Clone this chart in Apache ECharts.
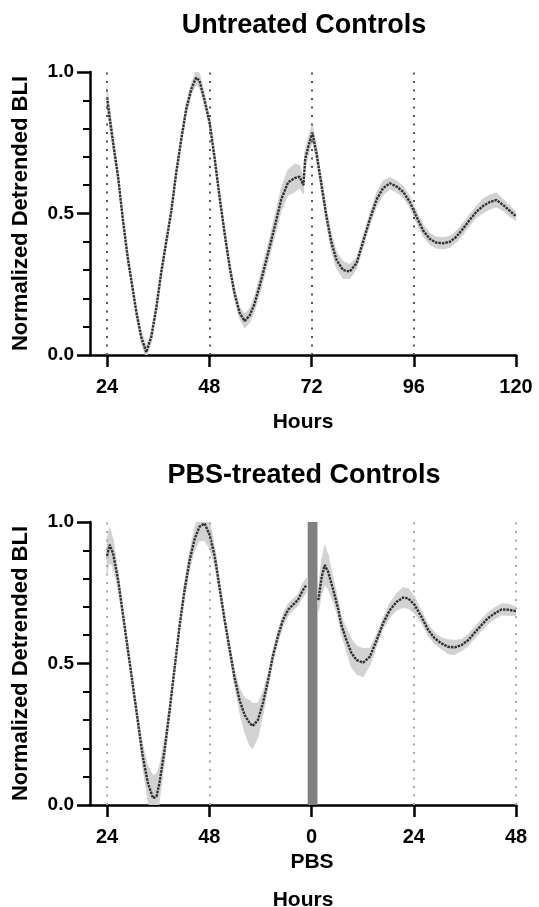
<!DOCTYPE html>
<html>
<head>
<meta charset="utf-8">
<script src="https://cdn.jsdelivr.net/npm/echarts@6/dist/echarts.min.js"></script>
<style>
  html, body { margin: 0; padding: 0; background: #fff; }
  #main { width: 539px; height: 907px; }
</style>
</head>
<body>
<div id="main"></div>
<script>
// untreated controls (top panel)
var topHours = [24.0, 24.6, 25.8, 26.6, 27.7, 28.9, 30.9, 32.0, 33.2, 34.4, 35.6, 36.7, 37.9, 39.1, 40.2, 41.4, 42.6, 43.8, 44.9, 45.7,
  46.9, 48.1, 49.3, 50.4, 51.6, 52.8, 53.9, 55.1, 56.3, 57.5, 58.6, 60.2, 61.8, 63.3, 64.9, 66.5, 68.0, 69.2, 70.1, 70.5,
  71.3, 72.2, 73.2, 74.4, 75.5, 76.7, 77.9, 79.4, 81.0, 82.6, 84.1, 85.7, 87.3, 88.8, 90.4, 92.0, 93.5, 95.1, 96.6, 98.2,
  99.8, 101.3, 102.9, 104.5, 106.0, 107.6, 109.1, 110.7, 112.3, 113.8, 115.4, 117.0, 118.5, 120.0];
var topMean = [0.91, 0.84, 0.71, 0.63, 0.48, 0.34, 0.15, 0.065, 0.01, 0.065, 0.17, 0.29, 0.40, 0.51, 0.64, 0.76, 0.87, 0.94, 0.98, 0.97,
  0.90, 0.82, 0.69, 0.56, 0.43, 0.31, 0.22, 0.15, 0.12, 0.14, 0.18, 0.265, 0.36, 0.45, 0.55, 0.61, 0.625, 0.63, 0.60, 0.69,
  0.74, 0.785, 0.71, 0.595, 0.49, 0.395, 0.335, 0.30, 0.295, 0.325, 0.40, 0.48, 0.55, 0.59, 0.607, 0.595, 0.577, 0.54, 0.49, 0.44,
  0.41, 0.397, 0.395, 0.40, 0.418, 0.447, 0.477, 0.506, 0.527, 0.54, 0.548, 0.53, 0.51, 0.49];
var topSem = [0.04, 0.035, 0.025, 0.02, 0.02, 0.02, 0.02, 0.02, 0.02, 0.02, 0.02, 0.02, 0.02, 0.02, 0.02, 0.02, 0.02, 0.02, 0.025, 0.025,
  0.02, 0.02, 0.02, 0.02, 0.02, 0.02, 0.02, 0.02, 0.025, 0.025, 0.025, 0.03, 0.03, 0.035, 0.04, 0.045, 0.05, 0.04, 0.03, 0.03,
  0.03, 0.03, 0.025, 0.025, 0.025, 0.03, 0.03, 0.03, 0.025, 0.02, 0.02, 0.02, 0.025, 0.025, 0.02, 0.02, 0.02, 0.02, 0.02, 0.02,
  0.02, 0.02, 0.02, 0.02, 0.02, 0.02, 0.02, 0.02, 0.025, 0.025, 0.025, 0.02, 0.02, 0.015];

// PBS-treated controls (bottom panel), '-' = gap at the PBS addition
var botHours = [24.0, 24.6, 25.4, 26.6, 27.7, 28.9, 30.1, 31.3, 32.4, 33.6, 34.8, 35.6, 36.3, 37.5, 38.7, 39.9, 41.0, 42.2, 43.4, 44.6,
  45.7, 46.9, 48.1, 49.3, 50.4, 51.6, 52.8, 53.9, 55.1, 56.3, 57.5, 58.2, 59.4, 60.6, 61.8, 62.9, 64.1, 65.3, 66.5, 67.6,
  68.8, 70.0, 70.8, 72.0, 73.6, 74.4, 75.1, 75.9, 77.1, 78.3, 79.0, 80.2, 81.4, 82.6, 84.1, 85.7, 87.3, 88.8, 90.4, 92.0,
  93.5, 94.7, 96.2, 97.8, 99.4, 100.9, 102.5, 104.1, 105.6, 107.2, 108.8, 110.3, 111.9, 113.4, 115.0, 116.6, 118.2, 120.0];
var botMean = [0.88, 0.92, 0.89, 0.795, 0.677, 0.548, 0.418, 0.289, 0.17, 0.077, 0.024, 0.03, 0.077, 0.194, 0.336, 0.489, 0.63, 0.76, 0.866, 0.942,
  0.983, 0.995, 0.954, 0.877, 0.77, 0.654, 0.548, 0.453, 0.371, 0.318, 0.289, 0.279, 0.30, 0.36, 0.44, 0.524, 0.595, 0.654, 0.69, 0.707,
  0.724, 0.76, 0.777, '-', 0.724, 0.807, 0.848, 0.824, 0.76, 0.69, 0.636, 0.583, 0.536, 0.512, 0.503, 0.524, 0.583, 0.642, 0.689, 0.718,
  0.733, 0.73, 0.707, 0.665, 0.618, 0.589, 0.571, 0.559, 0.557, 0.565, 0.583, 0.609, 0.636, 0.66, 0.677, 0.691, 0.69, 0.685];
var botSem = [0.06, 0.06, 0.05, 0.03, 0.02, 0.02, 0.02, 0.025, 0.04, 0.06, 0.08, 0.08, 0.06, 0.04, 0.025, 0.02, 0.02, 0.025, 0.03, 0.04,
  0.05, 0.06, 0.05, 0.03, 0.025, 0.02, 0.02, 0.025, 0.04, 0.06, 0.08, 0.08, 0.06, 0.04, 0.025, 0.02, 0.02, 0.02, 0.02, 0.02,
  0.02, 0.025, 0.025, '-', 0.04, 0.06, 0.07, 0.06, 0.04, 0.03, 0.03, 0.04, 0.05, 0.05, 0.05, 0.03, 0.02, 0.02, 0.025, 0.03,
  0.035, 0.035, 0.03, 0.02, 0.02, 0.02, 0.02, 0.025, 0.025, 0.02, 0.02, 0.02, 0.02, 0.02, 0.02, 0.02, 0.02, 0.015];

var hourTicks = [24, 48, 72, 96, 120];
var topTickLabels = ['24', '48', '72', '96', '120'];
var botTickLabels = ['24', '48', '0', '24', '48'];
var topGuides = [24, 48, 72, 96];
var botGuides = [24, 48, 96, 120];
var pbsWindow = [71.1, 73.4];

var FONT = 'Liberation Sans, Arial, sans-serif';
var BAND = '#d2d2d2';

// shaded SEM band: one quad per pair of neighbouring samples
function renderBand(params, api) {
  var i = params.dataIndexInside;
  if (i >= params.dataInsideLength - 1) return;
  var h0 = api.value(0, i), lo0 = api.value(1, i), hi0 = api.value(2, i);
  var h1 = api.value(0, i + 1), lo1 = api.value(1, i + 1), hi1 = api.value(2, i + 1);
  if ([h0, lo0, hi0, h1, lo1, hi1].some(isNaN)) return;
  return {
    type: 'polygon',
    shape: { points: [api.coord([h0, lo0]), api.coord([h1, lo1]), api.coord([h1, hi1]), api.coord([h0, hi0])] },
    style: { fill: BAND, stroke: BAND, lineWidth: 0.8 }
  };
}

function panelSeries(hours, mean, sem, idx, guides, guideColor, area) {
  var band = hours.map(function (h, i) {
    if (mean[i] === '-') return [h, '-', '-'];
    return [h, mean[i] - sem[i], mean[i] + sem[i]];
  });
  var line = hours.map(function (h, i) { return [h, mean[i]]; });
  var bandS = {
    type: 'custom',
    xAxisIndex: idx,
    yAxisIndex: idx,
    data: band,
    encode: { x: 0, y: [1, 2] },
    renderItem: renderBand,
    clip: true,
    silent: true,
    markLine: {
      silent: true,
      symbol: 'none',
      label: { show: false },
      lineStyle: { color: guideColor, width: 2, type: [2, 6.5] },
      data: guides.map(function (g) { return { xAxis: g }; })
    }
  };
  if (area) bandS.markArea = area;
  return [
    bandS,
    {
      type: 'line',
      xAxisIndex: idx,
      yAxisIndex: idx,
      data: line,
      showSymbol: false,
      silent: true,
      lineStyle: { color: '#303030', width: 2.4, type: [2.5, 1] }
    }
  ];
}

function xAxisCfg(idx, labels, name, nameGap) {
  return {
    type: 'value',
    gridIndex: idx,
    min: 20,
    max: 120,
    name: name,
    nameLocation: 'middle',
    nameGap: nameGap,
    nameTextStyle: { fontFamily: FONT, fontWeight: 'bold', fontSize: 21, color: '#000' },
    axisLine: { lineStyle: { color: '#000', width: 2.5 } },
    axisTick: { customValues: hourTicks, length: 12, lineStyle: { width: 2.5, color: '#000' } },
    axisLabel: {
      customValues: hourTicks,
      margin: 22,
      fontFamily: FONT, fontWeight: 'bold', fontSize: 20, color: '#000',
      formatter: function (v) { return labels[hourTicks.indexOf(v)]; }
    },
    splitLine: { show: false }
  };
}

function yAxisCfg(idx) {
  return {
    type: 'value',
    gridIndex: idx,
    min: 0,
    max: 1,
    interval: 0.5,
    name: 'Normalized Detrended BLI',
    nameLocation: 'middle',
    nameGap: 58,
    nameTextStyle: { fontFamily: FONT, fontWeight: 'bold', fontSize: 22, color: '#000' },
    axisLine: { show: true, lineStyle: { color: '#000', width: 2.5 } },
    axisTick: { length: 13, lineStyle: { width: 2.5, color: '#000' } },
    minorTick: { show: true, splitNumber: 5, length: 7, lineStyle: { width: 2, color: '#000' } },
    axisLabel: {
      margin: 16,
      fontFamily: FONT, fontWeight: 'bold', fontSize: 19, color: '#000',
      formatter: function (v) { return v.toFixed(1); }
    },
    splitLine: { show: false }
  };
}

var chart = echarts.init(document.getElementById('main'));
var titleStyle = { fontFamily: FONT, fontWeight: 'bold', fontSize: 27, color: '#000' };

chart.setOption({
  animation: false,
  backgroundColor: '#fff',
  title: [
    { text: 'Untreated Controls', left: 304, top: 12, textAlign: 'center', padding: 0, textStyle: titleStyle },
    { text: 'PBS-treated Controls', left: 304, top: 462, textAlign: 'center', padding: 0, textStyle: titleStyle },
    { text: 'PBS', left: 312, top: 852, textAlign: 'center', padding: 0,
      textStyle: { fontFamily: FONT, fontWeight: 'bold', fontSize: 21, color: '#000' } }
  ],
  grid: [
    { left: 90, top: 72, width: 426, height: 283, outerBoundsMode: 'none' },
    { left: 90, top: 522, width: 426, height: 283, outerBoundsMode: 'none' }
  ],
  xAxis: [
    xAxisCfg(0, topTickLabels, 'Hours', 57),
    xAxisCfg(1, botTickLabels, 'Hours', 85)
  ],
  yAxis: [yAxisCfg(0), yAxisCfg(1)],
  series: [].concat(
    panelSeries(topHours, topMean, topSem, 0, topGuides, '#555'),
    panelSeries(botHours, botMean, botSem, 1, botGuides, '#aaa', {
      silent: true,
      itemStyle: { color: '#808080', opacity: 1 },
      data: [[{ xAxis: pbsWindow[0] }, { xAxis: pbsWindow[1] }]]
    })
  )
});
</script>
</body>
</html>
